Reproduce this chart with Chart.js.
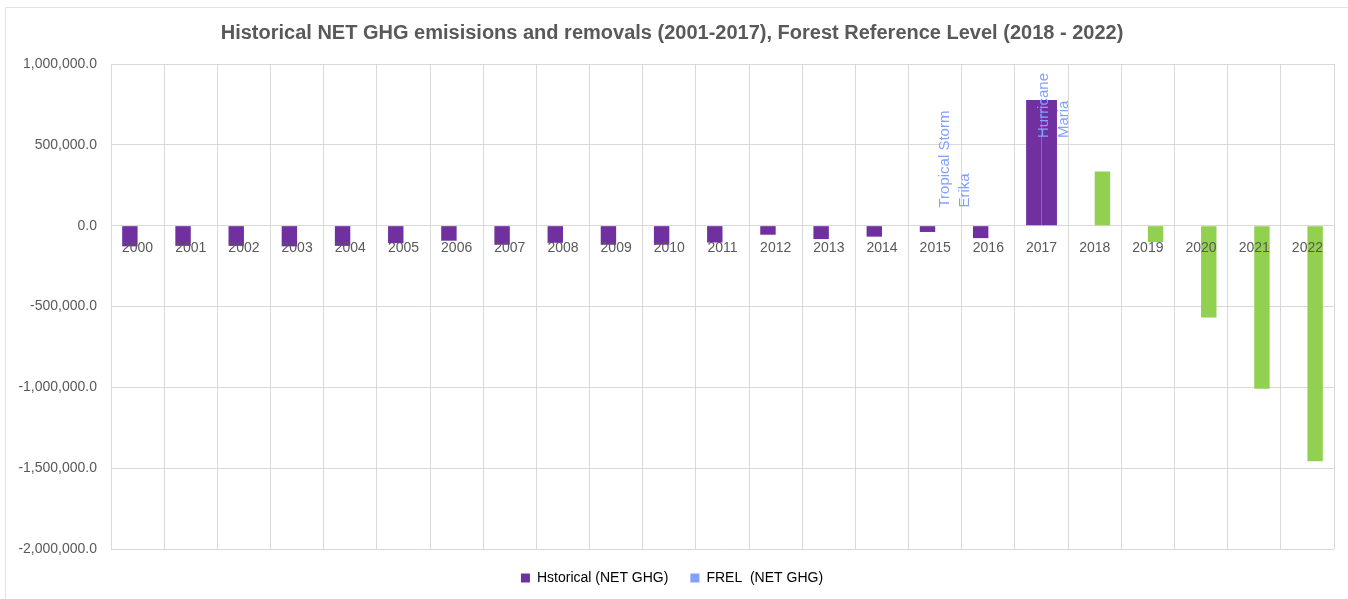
<!DOCTYPE html>
<html>
<head>
<meta charset="utf-8">
<script src="https://cdn.jsdelivr.net/npm/chart.js@4/dist/chart.umd.min.js"></script>
<style>
  html, body { margin: 0; padding: 0; background: #fff; }
  #wrap { width: 1348px; height: 599px; }
</style>
</head>
<body>
<div id="wrap"><canvas id="ghgChart"></canvas></div>
<script>
const years = ['2000', '2001', '2002', '2003', '2004', '2005', '2006', '2007', '2008', '2009', '2010', '2011',
  '2012', '2013', '2014', '2015', '2016', '2017', '2018', '2019', '2020', '2021', '2022'];

// Historical NET GHG (2000-2017)
const historical = [-128000, -125000, -125000, -128000, -125000, -108000, -93000, -118000, -106000, -118000,
  -118000, -104000, -56000, -83000, -68000, -39000, -77000, 778000,
  null, null, null, null, null];

// FREL NET GHG (2017-2022)
const frel = [null, null, null, null, null, null, null, null, null, null, null, null, null, null, null, null, null,
  778000, 335000, -101000, -568000, -1009000, -1457000];

const yTicks = [1000000, 500000, 0, -500000, -1000000, -1500000, -2000000];

// text notes on the chart: year, y value of the text start, lines
const noteYears = ['2015', '2017'];
const noteValues = [112000, 542000];
const noteLines = [['Tropical Storm', 'Erika'], ['Hurricane', 'Maria']];

const PURPLE = '#7030a0';
const GREEN = '#92d050';
const BLUE = '#82a0ff';
const GREY_TEXT = '#595959';
const GRID = '#d9d9d9';

const frelColors = years.map(y => (y === '2017' ? PURPLE : GREEN));

Chart.defaults.font.family = '"Liberation Sans", Arial, sans-serif';
Chart.defaults.color = GREY_TEXT;

const frameBorder = {
  id: 'frameBorder',
  beforeDraw(chart) {
    const ctx = chart.ctx;
    ctx.save();
    ctx.fillStyle = '#fff';
    ctx.fillRect(0, 0, chart.width, chart.height);
    ctx.strokeStyle = '#e3e3e3';
    ctx.lineWidth = 1;
    ctx.strokeRect(5.5, 7.5, chart.width + 10, chart.height + 10);
    ctx.restore();
  }
};

const notesPlugin = {
  id: 'notes',
  afterDatasetsDraw(chart) {
    const ctx = chart.ctx;
    const xs = chart.scales.x;
    const ys = chart.scales.y;
    const offsets = [10, 2];
    ctx.save();
    ctx.fillStyle = BLUE;
    ctx.font = '15px "Liberation Sans", Arial, sans-serif';
    ctx.textAlign = 'left';
    ctx.textBaseline = 'middle';
    noteYears.forEach((yr, i) => {
      const x = xs.getPixelForValue(years.indexOf(yr)) + offsets[i];
      const y = ys.getPixelForValue(noteValues[i]);
      ctx.save();
      ctx.translate(x, y);
      ctx.rotate(-Math.PI / 2);
      noteLines[i].forEach((line, j) => ctx.fillText(line, 0, j * 20));
      ctx.restore();
    });
    ctx.restore();
  }
};

new Chart(document.getElementById('ghgChart'), {
  type: 'bar',
  data: {
    labels: years,
    datasets: [
      {
        label: 'Hstorical (NET GHG)',
        data: historical,
        backgroundColor: PURPLE,
        categoryPercentage: 0.58,
        barPercentage: 1.0
      },
      {
        label: 'FREL  (NET GHG)',
        data: frel,
        backgroundColor: frelColors,
        categoryPercentage: 0.58,
        barPercentage: 1.0
      }
    ]
  },
  options: {
    responsive: true,
    maintainAspectRatio: false,
    animation: false,
    layout: { padding: { top: 8, left: 10, right: 14, bottom: 4 } },
    plugins: {
      title: {
        display: true,
        text: 'Historical NET GHG emisisions and removals (2001-2017), Forest Reference Level (2018 - 2022)',
        color: GREY_TEXT,
        font: { size: 20, weight: 'bold' },
        padding: { top: 13, bottom: 19 }
      },
      legend: {
        position: 'bottom',
        labels: {
          boxWidth: 9,
          boxHeight: 9,
          padding: 22,
          color: GREY_TEXT,
          font: { size: 14 },
          generateLabels: chart => chart.data.datasets.map((ds, i) => ({
            text: ds.label,
            fillStyle: i === 0 ? PURPLE : BLUE,
            strokeStyle: i === 0 ? PURPLE : BLUE,
            lineWidth: 0,
            datasetIndex: i
          }))
        }
      },
      tooltip: { enabled: false }
    },
    scales: {
      x: {
        position: { y: 0 },
        grid: { color: GRID, offset: true, drawTicks: false },
        border: { display: false },
        ticks: { z: 1, maxRotation: 0, autoSkip: false, padding: 14, color: GREY_TEXT, font: { size: 14 } }
      },
      y: {
        min: -2000000,
        max: 1000000,
        afterBuildTicks: axis => { axis.ticks = yTicks.map(v => ({ value: v })); },
        afterFit: axis => { axis.width = 101; },
        grid: { color: GRID, drawTicks: false },
        border: { display: false },
        ticks: {
          padding: 14,
          color: GREY_TEXT,
          font: { size: 14 },
          callback: v => v.toLocaleString('en-US', { minimumFractionDigits: 1, maximumFractionDigits: 1 })
        }
      }
    }
  },
  plugins: [frameBorder, notesPlugin]
});
</script>
</body>
</html>
